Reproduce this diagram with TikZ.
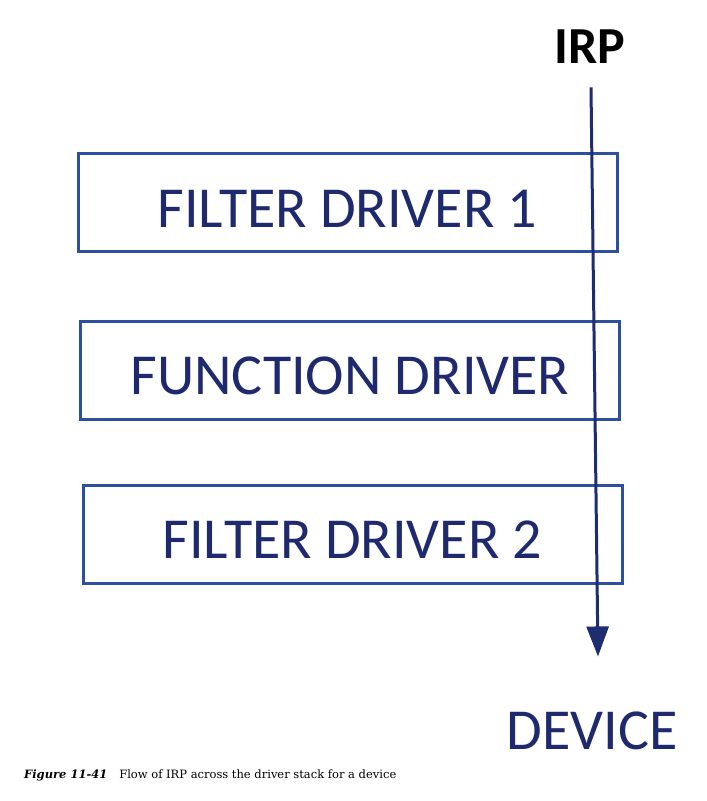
\documentclass[tikz,border=0pt]{standalone}
\usepackage{fontspec}
\setmainfont{Carlito}
\newfontfamily\captionfont{DejaVu Serif}
\usetikzlibrary{arrows.meta, positioning}
\definecolor{boxblue}{HTML}{2E4F9E}
\definecolor{textnavy}{HTML}{1F2A6E}
\definecolor{arrownavy}{HTML}{1E2C70}
\newcommand{\boxlabel}[1]{\raisebox{-6pt}[\height][\depth]{#1}}
\tikzset{
    driver box/.style={
        draw=boxblue,
        line width=3pt,
        minimum width=539pt,
        minimum height=98pt,
        inner sep=0pt,
        text=textnavy,
        font=\fontsize{58}{58}\selectfont
    },
    irp arrow/.style={
        draw=arrownavy,
        line width=3pt,
        -{Triangle[length=30pt, width=22pt]}
    }
}
\begin{document}
\begin{tikzpicture}[x=1pt, y=-1pt]
    \useasboundingbox[fill=white] (0,0) rectangle (707,801);

    % Driver stack
    \node[driver box] (filterone) at (347.5, 202.5) {\boxlabel{FILTER DRIVER 1}};
    \node[driver box] (function) at (350, 370) {\boxlabel{FUNCTION DRIVER}};
    \node[driver box] (filtertwo) at (352.5, 534) {\boxlabel{FILTER DRIVER 2}};

    % Top and bottom labels
    \node[font=\fontsize{52}{52}\bfseries\selectfont, text=black] (irp) at (590, 47) {IRP};
    \node[font=\fontsize{58}{58}\selectfont, text=textnavy] (device) at (592, 731) {DEVICE};

    % Flow of the IRP down the stack
    \coordinate (irpstart) at ([xshift=1pt, yshift=-20pt]irp.south);
    \coordinate (devicetop) at ([xshift=6pt, yshift=52pt]device.north);
    \draw[irp arrow] (irpstart) -- (devicetop);

    % Caption
    \node[anchor=west, font=\captionfont\fontsize{11.5}{12}\selectfont, inner sep=0pt] (caption) at (24, 775)
        {\textbf{\textit{Figure 11-41}}\hspace{12pt}Flow of IRP across the driver stack for a device};
\end{tikzpicture}
\end{document}
